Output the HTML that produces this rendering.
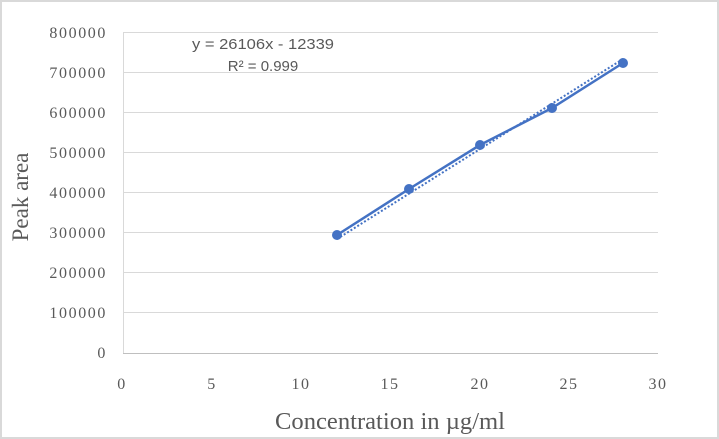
<!DOCTYPE html>
<html><head><style>
html,body{margin:0;padding:0;background:#fff}
svg{display:block}
text{font-family:"Liberation Serif",serif;fill:#595959}
</style></head><body>
<svg width="719" height="439" viewBox="0 0 719 439">
<rect x="1" y="1" width="717" height="437" fill="#fff" stroke="#d9d9d9" stroke-width="2"/>
<g stroke="#d9d9d9" stroke-width="1">
<line x1="123" y1="32.5" x2="658" y2="32.5"/>
<line x1="123" y1="72.5" x2="658" y2="72.5"/>
<line x1="123" y1="112.5" x2="658" y2="112.5"/>
<line x1="123" y1="152.5" x2="658" y2="152.5"/>
<line x1="123" y1="192.5" x2="658" y2="192.5"/>
<line x1="123" y1="232.5" x2="658" y2="232.5"/>
<line x1="123" y1="272.5" x2="658" y2="272.5"/>
<line x1="123" y1="312.5" x2="658" y2="312.5"/>
<line x1="123.5" y1="32" x2="123.5" y2="353"/>
</g>
<line x1="123" y1="353.5" x2="658" y2="353.5" stroke="#bfbfbf"/>
<g font-size="16" text-anchor="end" letter-spacing="1.6">
<text x="107" y="38">800000</text>
<text x="107" y="78">700000</text>
<text x="107" y="118">600000</text>
<text x="107" y="158">500000</text>
<text x="107" y="198">400000</text>
<text x="107" y="238">300000</text>
<text x="107" y="278">200000</text>
<text x="107" y="318">100000</text>
<text x="107" y="358">0</text>
</g>
<g font-size="16" text-anchor="middle" letter-spacing="1.5">
<text x="122" y="389">0</text>
<text x="212" y="389">5</text>
<text x="301" y="389">10</text>
<text x="390" y="389">15</text>
<text x="480" y="389">20</text>
<text x="569" y="389">25</text>
<text x="658" y="389">30</text>
</g>
<text x="390" y="429" font-size="24" text-anchor="middle" textLength="230" lengthAdjust="spacingAndGlyphs">Concentration in µg/ml</text>
<text transform="translate(28,197) rotate(-90)" font-size="23" text-anchor="middle">Peak area</text>
<line x1="337" y1="239" x2="623" y2="59" stroke="#4472c4" stroke-width="2" stroke-dasharray="2,2"/>
<polyline points="337,235 409,189 480,145 552,108 623,63" fill="none" stroke="#4472c4" stroke-width="2.5"/>
<g fill="#4472c4">
<circle cx="337" cy="235" r="5"/>
<circle cx="409" cy="189" r="5"/>
<circle cx="480" cy="145" r="5"/>
<circle cx="552" cy="108" r="5"/>
<circle cx="623" cy="63" r="5"/>
</g>
<text x="263" y="49" font-size="15" text-anchor="middle" textLength="142" lengthAdjust="spacingAndGlyphs" style="font-family:'Liberation Sans',sans-serif">y = 26106x - 12339</text>
<text x="263" y="71" font-size="15" text-anchor="middle" style="font-family:'Liberation Sans',sans-serif">R² = 0.999</text>
</svg>
</body></html>
